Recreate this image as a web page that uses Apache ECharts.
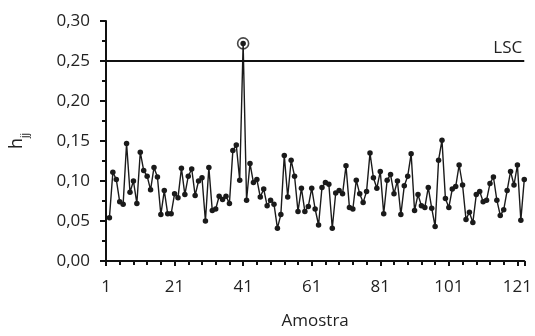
<!DOCTYPE html>
<html>
<head>
<meta charset="utf-8">
<script src="https://cdn.jsdelivr.net/npm/echarts@6/dist/echarts.min.js"></script>
<style>html,body{margin:0;padding:0;background:#fff}#c{width:535px;height:336px}</style>
</head>
<body>
<div id="c"></div>
<script>
const firstSample = 2;
const hValues = [
  0.054, 0.111, 0.102, 0.074, 0.071, 0.147, 0.086, 0.100, 0.072, 0.136,
  0.113, 0.106, 0.089, 0.117, 0.105, 0.058, 0.088, 0.059, 0.059, 0.084,
  0.079, 0.116, 0.083, 0.106, 0.115, 0.082, 0.100, 0.104, 0.050, 0.117,
  0.063, 0.065, 0.081, 0.077, 0.081, 0.072, 0.138, 0.145, 0.101, 0.272,
  0.076, 0.122, 0.098, 0.102, 0.080, 0.090, 0.069, 0.076, 0.071, 0.041,
  0.058, 0.132, 0.080, 0.126, 0.106, 0.062, 0.091, 0.062, 0.068, 0.091,
  0.065, 0.045, 0.092, 0.098, 0.096, 0.041, 0.085, 0.088, 0.084, 0.119,
  0.067, 0.065, 0.101, 0.084, 0.073, 0.087, 0.135, 0.104, 0.091, 0.112,
  0.059, 0.101, 0.108, 0.084, 0.100, 0.058, 0.094, 0.106, 0.134, 0.063,
  0.083, 0.069, 0.067, 0.092, 0.066, 0.043, 0.126, 0.151, 0.078, 0.067,
  0.090, 0.093, 0.120, 0.095, 0.052, 0.061, 0.048, 0.083, 0.087, 0.074,
  0.076, 0.097, 0.105, 0.076, 0.057, 0.064, 0.088, 0.112, 0.095, 0.120,
  0.051, 0.102
];
const lscValue = 0.25;
const lscLabel = 'LSC';
const xTickStart = 1;
const xTickStep = 20;
const yTickStep = 0.05;
const xName = 'Amostra';

const points = hValues.map((v, i) => [firstSample + i, v]);
const flagged = points.filter(p => p[1] > lscValue);

const FONT = 'Open Sans';
const TXT = '#222';
const FS = 17;

const chart = echarts.init(document.getElementById('c'), null, {renderer: 'canvas'});
chart.setOption({
  animation: false,
  backgroundColor: '#fff',
  grid: {left: 106, right: 9, top: 21, bottom: 75, containLabel: false},
  xAxis: {
    type: 'value',
    min: xTickStart,
    max: firstSample + hValues.length - 1,
    interval: xTickStep,
    name: xName,
    nameLocation: 'middle',
    nameGap: 52,
    nameTextStyle: {fontFamily: FONT, fontSize: FS, color: TXT},
    axisLine: {lineStyle: {color: '#111', width: 2}},
    axisTick: {length: 5, lineStyle: {color: '#111', width: 2}},
    minorTick: {show: true, splitNumber: 5, length: 4, lineStyle: {color: '#111', width: 2}},
    splitLine: {show: false},
    axisLabel: {fontFamily: FONT, fontSize: FS, color: TXT, margin: 18, showMaxLabel: false}
  },
  yAxis: {
    type: 'value',
    min: 0,
    max: 0.3,
    interval: yTickStep,
    name: '{h|h}{s|jj}',
    nameLocation: 'middle',
    nameGap: 76,
    nameTextStyle: {
      fontFamily: FONT, color: TXT,
      rich: {
        h: {fontFamily: FONT, fontSize: 18, color: TXT, lineHeight: 22},
        s: {fontFamily: FONT, fontSize: 10, color: TXT, lineHeight: 26, verticalAlign: 'bottom'}
      }
    },
    axisLine: {show: true, lineStyle: {color: '#111', width: 2}},
    axisTick: {show: true, length: 6, lineStyle: {color: '#111', width: 2}},
    minorTick: {show: true, splitNumber: 2, length: 4, lineStyle: {color: '#111', width: 2}},
    splitLine: {show: false},
    axisLabel: {
      fontFamily: FONT, fontSize: FS, color: TXT, margin: 16,
      formatter: v => v.toFixed(2).replace('.', ',')
    }
  },
  series: [
    {
      type: 'line',
      data: points,
      symbol: 'circle',
      symbolSize: 5.5,
      showAllSymbol: true,
      lineStyle: {color: '#1a1a1a', width: 1.4},
      itemStyle: {color: '#1a1a1a'},
      markLine: {
        silent: true,
        symbol: ['none', 'none'],
        lineStyle: {color: '#111', width: 2, type: 'solid'},
        label: {
          show: true, position: 'insideEndTop', formatter: lscLabel,
          fontFamily: FONT, fontSize: FS, color: TXT, distance: [2, 4]
        },
        data: [{yAxis: lscValue}]
      }
    },
    {
      type: 'scatter',
      data: flagged,
      symbol: 'circle',
      symbolSize: 11,
      itemStyle: {color: 'rgba(0,0,0,0)', borderColor: '#1a1a1a', borderWidth: 1.6},
      z: 5
    }
  ]
});
</script>
</body>
</html>
